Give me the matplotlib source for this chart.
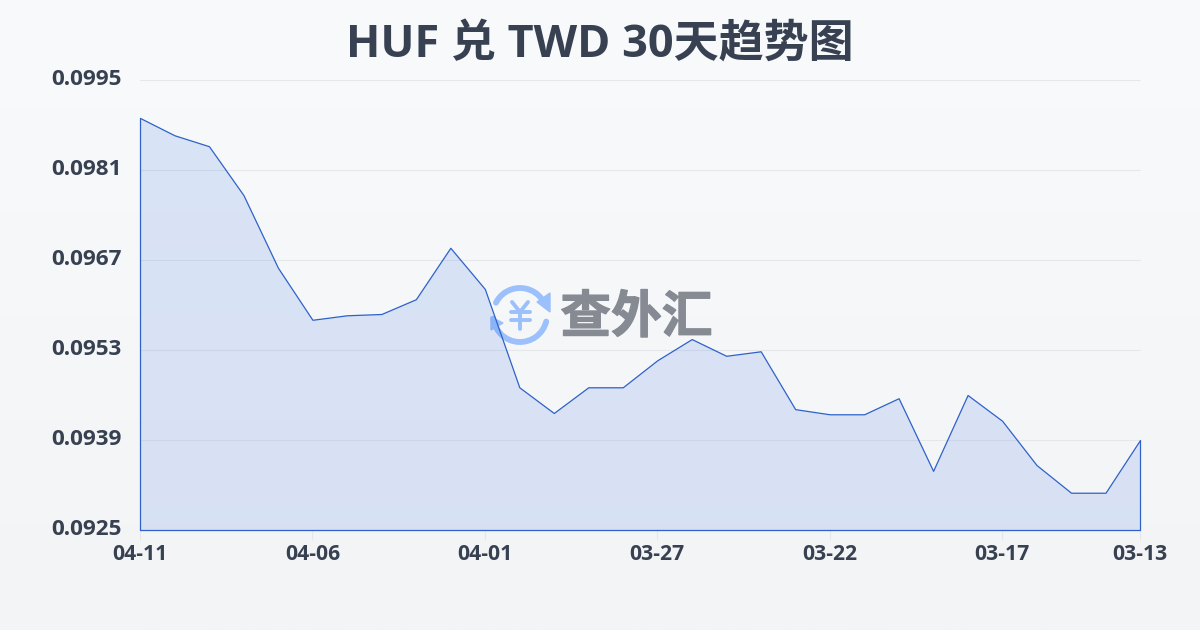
import numpy as np
import matplotlib
matplotlib.use("Agg")
import matplotlib.pyplot as plt
import matplotlib.patheffects as pe
from matplotlib.patches import Arc, Polygon
from matplotlib.transforms import ScaledTranslation

plt.rcParams['font.family'] = ['Open Sans', 'Noto Sans CJK SC', 'DejaVu Sans']

dates = ['04-11', '04-06', '04-01', '03-27', '03-22', '03-17', '03-13']
date_pos = [0, 5, 10, 15, 20, 25, 29]
rates = [0.09891, 0.09864, 0.09847, 0.09771, 0.09658, 0.09577, 0.09584, 0.09586,
         0.09609, 0.09689, 0.09625, 0.09472, 0.09432, 0.09472, 0.09472, 0.09514,
         0.09547, 0.09521, 0.09528, 0.09438, 0.09430, 0.09430, 0.09455, 0.09342,
         0.09460, 0.09420, 0.09351, 0.09308, 0.09308, 0.09390]
y_ticks = [0.0925, 0.0939, 0.0953, 0.0967, 0.0981, 0.0995]

W, H = 1200, 630
fig = plt.figure(figsize=(W / 100, H / 100), dpi=100)

# page background, light vertical gradient
bg = fig.add_axes([0, 0, 1, 1], zorder=0)
bg.axis('off')
top = np.array([248, 250, 252]) / 255
bottom = np.array([243, 244, 246]) / 255
t = np.linspace(0, 1, 256)[:, None, None]
bg.imshow(top + (bottom - top) * t, aspect='auto', extent=[0, 1, 0, 1])

# logo sits under the chart, coordinates are in pixels
logo = fig.add_axes([0, 0, 1, 1], zorder=1)
logo.set_xlim(0, W)
logo.set_ylim(H, 0)
logo.axis('off')
blue = '#9cc0fb'
logo.add_patch(Arc((520, 315), 54, 54, theta1=207, theta2=330, color=blue, lw=4.2, capstyle='round'))
logo.add_patch(Arc((520, 315), 54, 54, theta1=14, theta2=172, color=blue, lw=4.2, capstyle='round'))
logo.add_patch(Polygon([(537, 302), (550, 293), (550, 312)], color=blue))
logo.add_patch(Polygon([(491, 317), (503, 323), (491, 330)], color=blue))
# yen sign of the logo
logo.plot([512, 520, 528], [302, 312, 302], color=blue, lw=2.8, solid_capstyle='round')
logo.plot([511, 530], [312, 312], color=blue, lw=2.8, solid_capstyle='round')
logo.plot([511, 530], [320, 320], color=blue, lw=2.8, solid_capstyle='round')
logo.plot([520, 520], [312, 329], color=blue, lw=2.8, solid_capstyle='round')
logo.text(636.5, 318, '查外汇', color='#868a93', fontsize=36.5, fontweight='bold', ha='center', va='center',
          family=['Noto Sans CJK SC'],
          path_effects=[pe.withStroke(linewidth=0.9, foreground='#868a93')])

ax = fig.add_axes([140 / W, 1 - 530 / H, 1000 / W, 450 / H], zorder=2)
ax.patch.set_alpha(0)
x = np.arange(len(rates))
ax.fill_between(x, rates, y_ticks[0], facecolor=(0.11, 0.36, 0.88, 0.13),
                edgecolor='#2f62c8', linewidth=0.9, zorder=3, clip_on=False)
ax.set_xlim(0, 29)
ax.set_ylim(y_ticks[0], y_ticks[-1])
ax.set_yticks(y_ticks)
ax.set_yticklabels([f'{v:.4f}' for v in y_ticks])
ax.set_xticks(date_pos)
ax.set_xticklabels(dates)
ax.grid(axis='y', color='#e5e7eb', lw=0.8)
for g in ax.get_ygridlines():
    g.set_clip_on(False)
    g.set_solid_capstyle('butt')
ax.set_axisbelow(True)
for s in ax.spines.values():
    s.set_visible(False)
ax.tick_params(axis='y', length=0, pad=13, labelsize=16.2, labelcolor='#374151')
ax.tick_params(axis='x', length=7, width=0.8, color='#e5e7eb', pad=3, labelsize=15.2, labelcolor='#374151')
for lab in ax.get_xticklabels() + ax.get_yticklabels():
    lab.set_fontweight('bold')
up = ScaledTranslation(0, 2 / 72, fig.dpi_scale_trans)
for lab in ax.get_yticklabels():
    lab.set_transform(lab.get_transform() + up)

fig.text(0.5, 1 - 45 / H, 'HUF 兑 TWD 30天趋势图', fontsize=32.4, fontweight='bold', color='#374151',
         ha='center', va='center', zorder=5)

fig.savefig('out.png', dpi=100)
